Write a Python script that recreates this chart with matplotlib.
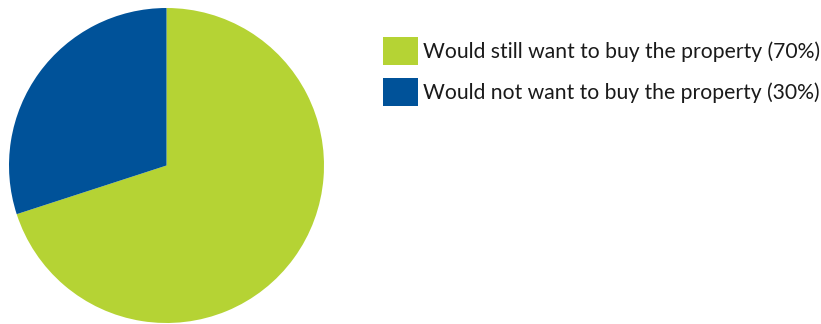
import matplotlib.pyplot as plt

labels = ["Would still want to buy the property (70%)",
          "Would not want to buy the property (30%)"]
values = [70, 30]
colors = ["#B5D334", "#005299"]

W, H = 821, 324
fig = plt.figure(figsize=(W / 100, H / 100), dpi=100)

# pie axes: pixel box (left, bottom, size)
ax = fig.add_axes([9 / W, 1 / H, 315 / W, 315 / H])
wedges, _ = ax.pie(values, colors=colors, startangle=90, counterclock=False,
                   radius=1.0, wedgeprops=dict(linewidth=0))
ax.set_xlim(-1, 1)
ax.set_ylim(-1, 1)
ax.set_aspect('equal')
ax.axis('off')

fs = 15.2
fpx = fs * 100 / 72
# legend patch height = fontsize * (0.65*hh + 0.245)
hh = (28 / fpx - 0.245) / 0.65
leg = fig.legend(wedges, labels, loc='upper left',
                 bbox_to_anchor=(383 / W, 1 - 37 / H),
                 frameon=False,
                 prop={'family': ['Lato', 'DejaVu Sans'], 'size': fs},
                 handlelength=35 / fpx, handleheight=hh,
                 handletextpad=5 / fpx, labelspacing=13 / fpx,
                 borderpad=0, borderaxespad=0)
for t in leg.get_texts():
    t.set_color('#1a1a1a')

fig.savefig('out.png', dpi=100)
